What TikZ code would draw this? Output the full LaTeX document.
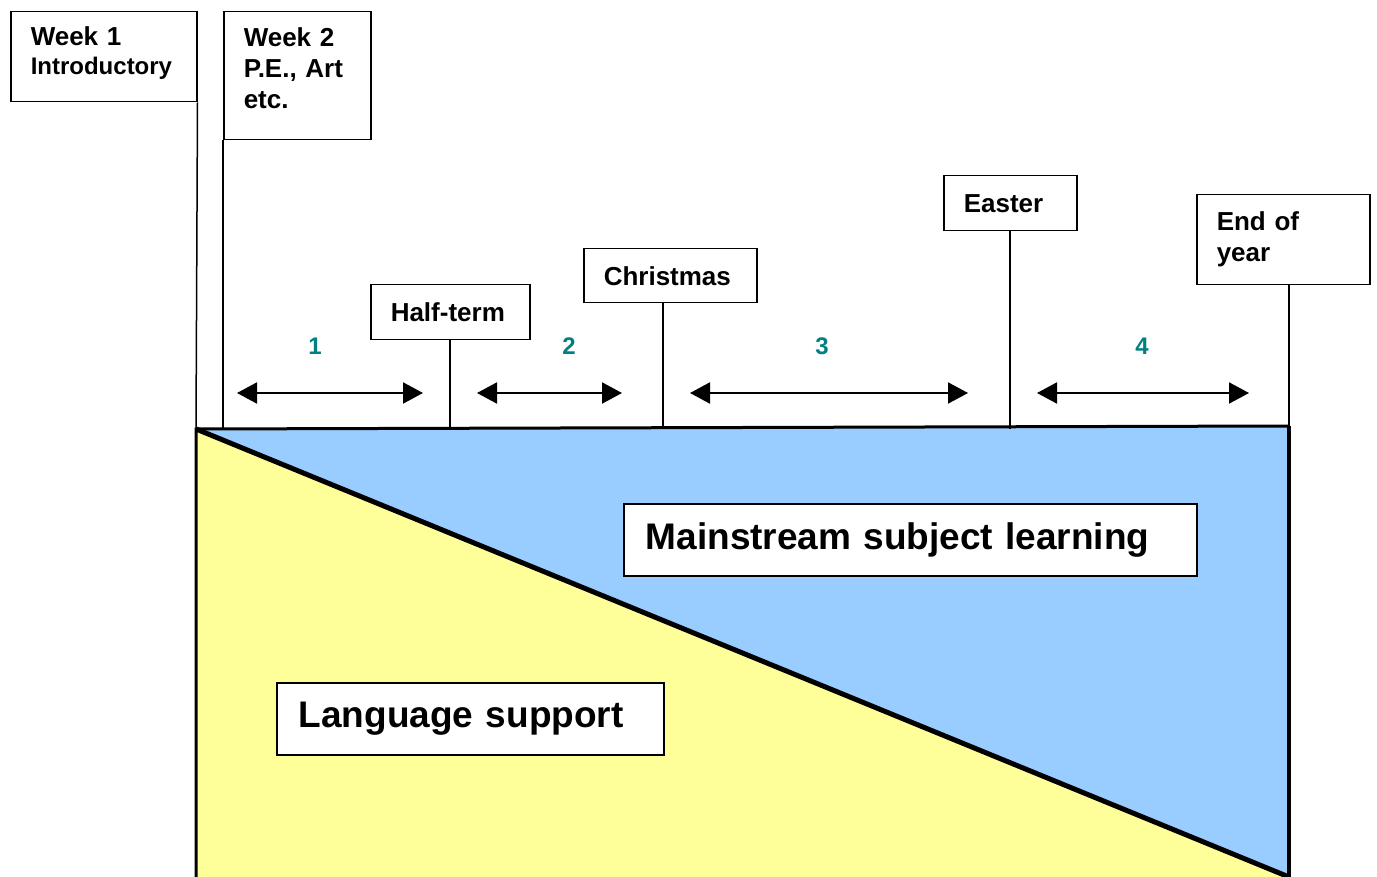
\documentclass[tikz,border=0pt]{standalone}
\usepackage{fontspec}
\setmainfont{Liberation Sans}
\usetikzlibrary{arrows.meta}
\definecolor{mainblue}{HTML}{99CCFF}
\definecolor{langyellow}{HTML}{FFFF99}
\definecolor{numteal}{HTML}{008080}
\tikzset{
  datebox/.style={draw, line width=1.5pt, fill=white, align=left, anchor=north west,
    inner xsep=20pt, inner ysep=0pt, font=\bfseries\fontsize{26}{31}\selectfont},
  bigbox/.style={datebox, inner xsep=22pt, font=\bfseries\fontsize{37}{44}\selectfont},
  period/.style={line width=2pt, {Triangle[length=20pt,width=21pt]}-{Triangle[length=20pt,width=21pt]}},
  num/.style={text=numteal, font=\bfseries\fontsize{24}{29}\selectfont},
  marker/.style={line width=1.5pt},
  edge/.style={line width=4pt}
}

\begin{document}
\begin{tikzpicture}[x=1pt, y=-1pt]
  \useasboundingbox (0,0) rectangle (1377,877);
  \coordinate (tl) at (196,429);
  \coordinate (tr) at (1289,426);
  \coordinate (br) at (1289,877);
  \coordinate (bl) at (196,877);

  % the two areas
  \fill[mainblue] (tl) -- (tr) -- (br) -- cycle;
  \fill[langyellow] (tl) -- (br) -- (bl) -- cycle;
  \draw[edge, line width=3pt] (bl) -- (tl) -- (tr);
  \draw[edge] (tr) -- (br);
  \draw[edge, line width=5pt] (tl) -- (br);

  % dates
  \node[datebox, text width=146pt, minimum height=90pt] (wk1) at (10,11)
    {Week 1\\[-2pt]{\fontsize{24}{29}\selectfont Introductory}\\[-19pt]\mbox{}};
  \node[datebox, text width=107pt, minimum height=128pt] (wk2) at (223,11)
    {Week 2\\P.E., Art\\etc.\\[-16pt]\mbox{}};
  \node[datebox, text width=119pt, minimum height=55pt] (half) at (370,284) {Half-term};
  \node[datebox, text width=133pt, minimum height=54pt] (xmas) at (583,248) {Christmas};
  \node[datebox, text width=93pt, minimum height=55pt] (easter) at (943,175) {Easter};
  \node[datebox, text width=133pt, minimum height=90pt] (eoy) at (1196,194) {End of\\year};

  \coordinate (tHalf) at (450,428);
  \coordinate (tXmas) at (663,428);
  \coordinate (tEaster) at (1010,429);
  \coordinate (tWk2) at (223,429);
  \draw[marker] (wk1.south east) -- (tl);
  \draw[marker] (wk2.south west) -- (tWk2);
  \draw[marker] (half.south -| tHalf) -- (tHalf);
  \draw[marker] (xmas.south -| tXmas) -- (tXmas);
  \draw[marker] (easter.south -| tEaster) -- (tEaster);
  \draw[marker] (eoy.south -| tr) -- (tr);

  % periods
  \foreach \i/\xa/\xb/\xn in {1/237/423/315, 2/477/622/569, 3/690/968/822, 4/1037/1249/1142}{
    \coordinate (p\i l) at (\xa,393);
    \coordinate (p\i r) at (\xb,393);
    \draw[period] (p\i l) -- (p\i r);
    \node[num] (n\i) at (\xn,346) {\i};
  }

  \node[bigbox, text width=529pt, minimum height=72pt] (main) at (623,503)
    {Mainstream subject learning};
  \node[bigbox, text width=343pt, minimum height=72pt] (lang) at (276,682)
    {Language support};
\end{tikzpicture}
\end{document}
